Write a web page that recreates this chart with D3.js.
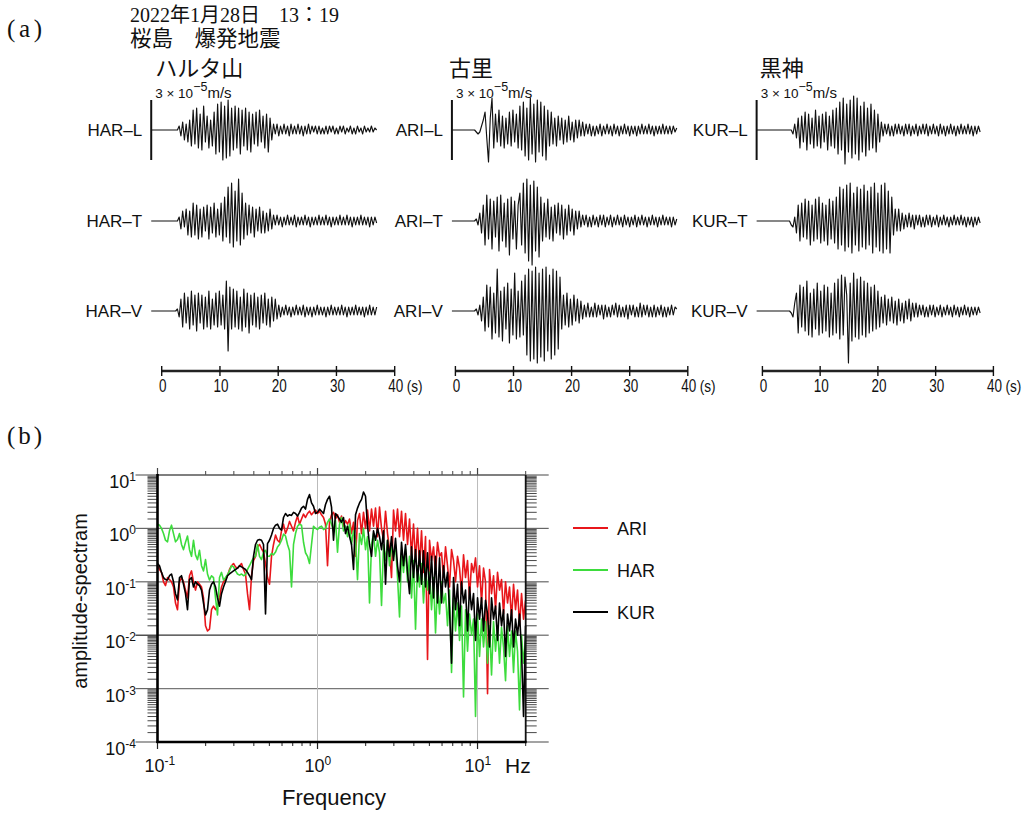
<!DOCTYPE html>
<html>
<head>
<meta charset="utf-8">
<script src="https://cdn.jsdelivr.net/npm/d3@7"></script>
<style>
  body { margin: 0; background: #fff; }
  text { fill: #111; }
</style>
</head>
<body>
<svg id="chart" width="1030" height="814"></svg>
<script>
// ---------------- data: waveforms (units of 1e-6 m/s, sampled every 0.3 s) ----------------
const stations = ["HAR", "ARI", "KUR"];
const stationNames = ["ハルタ山", "古里", "黒神"];
const components = ["L", "T", "V"];
const timeTicks = [0, 10, 20, 30, 40];
const sampleInterval = 0.3;          // s
const traceStart = [-1.8, -0.6, -1.0]; // s, per station
const scaleBarValue = 30;            // 3 x 10^-5 m/s

const harL = [0,0,0,0,0,0,0,0,0,0,0,0,0,0,0,0,
  2,-3,4,-5,3,-6,5,
  -8,10,-7,11,-9,8,-10,12,
  -6,7,-9,5,-8,9,
  -12,13,-11,14,-15,12,-14,15,-13,11,
  -10,12,-9,11,-12,10,-8,11,-10,9,-11,8,-7,
  9,-8,10,-6,7,-9,8,-11,6,-5,
  3,-2,3,-3,2,-2,3,-2,2,-3, 3,-2,2,-2,3,-2,2,-3,2,-2, 3,-2,2,-1,2,-2,2,-2,1,-2,
  2,-2,2,-1,2,-2,1,-2,2,-1, 2,-2,1,-1,2,-2,1,-2,2,-1, 1,-2,2,-1,1,-1,2,-1,1,0];
const harT = [0,0,0,0,0,0,0,0,0,0,0,0,0,0,0,0,
  2,-4,5,-3,6,-7,5,
  -8,9,-7,8,-9,6,-8,7,-5,8,-9,7,-6,9,-8,6,
  -7,9,-10,12,-8,
  17,-11,19,-13,15,-10,21,
  -12,14,-9,
  9,-7,8,-6,7,-8,6,-5,7,-6,5,-6,4,-5,6,-4,
  3,-2,3,-2,2,-3,2,-2,3,-2, 2,-2,3,-3,2,-2,2,-2,3,-2, 2,-3,2,-2,2,-2,3,-2,2,-2,
  3,-2,2,-3,2,-2,2,-2,3,-2, 2,-2,3,-2,2,-3,2,-2,2,-2, 3,-2,2,-2,2,-3,2,-2,2,-1];
const harV = [0,0,0,0,0,0,0,0,0,0,0,0,0,0,0,
  1,-3,6,-8,9,-6,7,
  -9,10,-7,8,-10,9,-6,8,-9,7,-8,10,-9,6,-7,9,-8,10,-7,8,-9,
  15,-20,12,
  -9,11,-8,10,-9,7,-10,11,-8,9,-11,8,-7,9,-8,7,-9,8,-6,9,-7,6,-8,7,-5,6,-4,
  3,-3,2,-2,3,-2,2,-3,2,-2, 3,-2,2,-2,3,-3,2,-2,2,-3, 2,-2,3,-2,2,-2,2,-3,2,-2,
  3,-2,2,-2,2,-2,3,-2,2,-3, 2,-2,2,-2,3,-2,2,-2,2,-3, 2,-2,3,-2,2,-2,2];

const ariL = [0,0,0,0,0,0,0,0,0,0,0,0,0,0,
  -1,-2,-1,
  2,5,9,-4,
  -16,6,16,
  -9,8,-6,10,-8,7,-9,6,-7,9,-8,10,-6,8,-9,
  12,-10,14,-13,11,-15,16,-12,13,-16,15,-11,14,-13,12,-15,10,
  -8,9,-7,6,-8,7,-5,6,-7,5,-6,7,-5,4,-6,5,-4,5,-3,4,
  -3,3,-2,3,-3,2,-3,2,-2,3, -3,2,-2,3,-2,2,-3,3,-2,2, -3,2,-2,3,-2,2,-3,2,-2,2,
  -3,2,-2,3,-2,2,-2,3,-2,2, -3,2,-2,2,-2,3,-2,2,-2,2, -2,2,-1,1];
const ariT = [0,0,0,0,0,0,0,0,0,0,0,0,0,0,
  1,-2,4,-6,8,
  -12,13,-9,11,-14,10,-8,12,-15,13,-10,9,-13,11,-17,12,-9,10,-14,8,
  14,-12,19,-16,21,-20,18,-22,20,-15,17,-18,
  12,-10,9,-8,11,-9,7,-10,8,-6,9,-7,8,-9,6,-7,8,-5,6,-7,5,-4,5,
  -3,3,-2,3,-3,2,-3,3,-2,2, -3,3,-2,3,-3,2,-2,3,-3,2, -2,3,-2,2,-3,3,-2,2,-3,2,
  -2,3,-3,2,-2,3,-2,2,-3,2, -2,3,-2,2,-3,2,-2,3,-2,2, -2,2,-3,2,-2,1];
const ariV = [0,0,0,0,0,0,0,0,0,0,0,0,0,0,
  1,-2,3,-5,7,
  -10,13,-8,12,-14,9,-11,21,-13,10,-15,12,-9,14,-16,11,-12,19,-14,10,-13,15,-12,
  18,-22,21,-25,20,-24,22,-26,19,-23,21,-25,22,-20,18,-24,21,-22,
  20,-19,17,
  -9,8,-7,9,-8,6,-7,8,-5,6,-6,5,
  -4,3,-3,4,-3,2,-3,4,-3,3, -2,3,-4,3,-3,2,-3,3,-2,4, -3,3,-3,2,-3,3,-4,3,-2,3,
  -3,2,-3,4,-3,3,-2,3,-3,2, -3,3,-3,2,-2,3,-3,2,-3,2, -2,3,-2,2,1];

const kurL = [0,0,0,0,0,0,0,0,0,0,0,0,0,0,0,0,0,0,0,0,0,
  -2,3,-4,6,
  -9,7,-6,9,-10,8,-7,6,-9,10,-8,7,-9,8,-6,9,-10,7,-8,10,-9,11,
  -12,14,-10,16,-17,13,-11,15,-14,17,-12,16,-15,12,-11,14,-13,11,-10,13,-9,
  10,-11,8,-6,
  4,-3,3,-2,3,-3,2,-3,3,-2, 3,-2,2,-3,3,-2,3,-3,2,-2, 3,-3,2,-2,3,-2,3,-3,2,-2,
  3,-2,2,-3,3,-2,2,-3,2,-2, 3,-2,2,-3,2,-2,3,-2,2,-2, 3,-2,2,-3,2,-2,2,-1];
const kurT = [0,0,0,0,0,0,0,0,0,0,0,0,0,0,0,0,0,0,0,0,
  -2,-3,2,
  -6,8,-10,9,-8,11,-9,10,-12,8,-10,11,-9,12,-11,9,-10,8,-12,11,-9,10,-11,12,
  -14,17,-12,16,-15,18,-13,19,-16,14,-12,17,-15,16,-13,18,-14,15,-12,17,-16,19,-13,14,-15,18,-16,19,-14,15,-16,12,
  -7,6,-5,6,-5,4,
  -4,3,-3,4,-3,3,-4,3,-2,3, -3,2,-3,3,-2,3,-3,2,-2,3, -3,2,-2,3,-2,2,-3,2,-2,3,
  -2,2,-2,3,-2,2,-3,2,-2,2, -3,2,-2,2,-1];
const kurV = [0,0,0,0,0,0,0,0,0,0,0,0,0,0,0,0,0,0,0,0,
  -1,-3,4,
  9,-11,13,-8,12,-10,15,-12,9,-13,11,-9,14,-12,10,-11,13,-10,12,-13,9,-12,14,-11,
  16,-14,18,-12,17,8,-26,
  14,-15,19,-13,16,-14,17,-12,15,-13,14,-11,12,-10,13,-9,10,-8,
  7,-6,8,-7,6,-5,7,-6,5,-7,6,-5,4,-6,5,-4,6,-5,4,-3,4,
  -3,3,-2,3,-3,2,-3,3,-2,3, -3,2,-2,3,-3,2,-2,3,-2,2, -3,3,-2,2,-3,2,-2,3,-2,2,
  -3,2,-2,2,-2,2,-1];

// ---------------- data: amplitude spectra (log-spaced bins from 0.1 Hz) ----------------
const specFreqStart = 0.1;   // Hz
const specLogStep = 0.0125;  // decades per bin
const specNames = ["ARI", "HAR", "KUR"];
const specColors = ["#e8161b", "#3ddc3d", "#000000"];

const specARI = [0.2,0.17,0.15, 0.1,0.085,0.12, 0.11,0.1,0.08, 0.04,0.03, 0.1,0.12,0.1, 0.07,0.05,
  0.13,0.16,0.1, 0.07,0.1,0.09, 0.08,0.05, 0.015,0.012,0.013, 0.03,0.035, 0.03,0.035,0.05,
  0.08,0.1,0.11, 0.13,0.17,0.2, 0.22,0.19,0.18, 0.2,0.22,0.17, 0.14,0.06, 0.03,
  0.13,0.25,0.3, 0.45,0.5,0.42, 0.36,0.22,0.12, 0.09, 0.3,0.5,0.75, 0.6,0.55,0.9,
  1.2,0.8,1.0, 1.35,1.1,0.9, 1.3,1.7,1.2, 1.5,1.85,1.6, 1.9,2.1,1.8, 2.0,2.2,1.9,
  2.1,1.8,1.6,1.2, 0.2, 1.3,1.8,2.0,1.5, 1.8,1.3,1.7,1.1,1.4, 1.2,1.5,0.8,1.3, 0.3,
  1.4,1.9,0.8,2.0,1.0,2.2, 0.9,2.3,1.1,2.4,0.7,2.5, 1.0,0.6,2.1,0.8,0.4, 0.12,
  2.2,0.9,2.3,0.7,2.1,0.6,1.9, 0.5,1.5,0.3,1.2,0.25,1.0,0.2,0.9,0.15,0.7, 0.0035,
  0.6,0.25,0.45,0.15,0.55,0.3, 0.35,0.12,0.45,0.2,0.08,0.4,0.25,0.1,
  0.3,0.18,0.06,0.32,0.12,0.25,0.05,0.22, 0.15,0.28,0.08,0.2,0.04,0.18,0.1, 0.0008,
  0.17,0.06,0.13,0.03,0.15,0.07,0.11,0.025, 0.1,0.04,0.08,0.02,0.09,0.03,0.07,
  0.015,0.06,0.02,0.045];

const specHAR = [1.2,1.15,1.0, 0.8,0.6,0.56, 0.9,1.15, 0.8,0.56,0.62, 0.8, 0.5,0.4,0.55, 0.72,
  0.4,0.3, 0.6, 0.32,0.26, 0.39, 0.2,0.16, 0.26, 0.14,0.108, 0.13,0.12, 0.05,0.024,
  0.12,0.15, 0.108,0.12, 0.135, 0.16,0.2,0.19, 0.16,0.14,0.133, 0.14,0.13,0.135, 0.17,0.2,
  0.24,0.28,0.3, 0.5, 0.3,0.26, 0.36,0.39, 0.3,0.3, 0.34,0.32,0.36, 0.45,0.5,0.6,
  0.78,0.72, 0.5,0.38, 0.08, 0.5,0.8, 1.1,1.2,1.15, 0.55,0.35, 0.3,0.22, 0.5,
  1.1,1.0, 0.95,1.05, 1.1,0.95,1.0, 1.3,1.5,1.2,0.9,1.4, 0.36, 1.2,1.6,0.9,1.1,
  0.7,1.2,0.5,0.9,0.6, 0.11, 0.8,0.5,1.0,0.4,0.7, 0.04, 0.5,0.8,0.3,0.6,0.35, 0.036,
  0.5,0.25,0.6,0.2,0.45,0.3,0.5,0.12, 0.022, 0.35,0.15,0.4,0.1,0.3,0.05,0.25, 0.013,
  0.2,0.08,0.22,0.04,0.18,0.07,0.15,0.03,0.12, 0.011, 0.09,0.025,0.1,0.04,0.06,0.015,0.07,
  0.002, 0.05,0.012,0.04,0.008,0.035, 0.0007, 0.03,0.005,0.025,0.01,0.02, 0.0003,
  0.025,0.004,0.02,0.006,0.018,0.003,0.015, 0.0018, 0.018,0.005,0.015,0.003,0.014,0.006,
  0.0014, 0.015,0.004,0.012,0.002,0.012,0.005, 0.0004, 0.01,0.003,0.008];

const specKUR = [0.22,0.2,0.15, 0.12,0.11,0.108, 0.13,0.14,0.1, 0.06,0.046, 0.12,0.13, 0.09,0.06,
  0.03, 0.11,0.12,0.08, 0.1,0.09,0.085, 0.07,0.04, 0.024,0.03, 0.07,0.09,0.1,
  0.08,0.05,0.035, 0.06,0.08,0.1, 0.13,0.14,0.15, 0.16,0.17,0.18, 0.2,0.19,0.18,
  0.17,0.15,0.13, 0.11,0.3, 0.5,0.6,0.62, 0.6,0.5, 0.025, 0.52,0.6,0.75, 1.0,1.15,1.2,
  1.0,0.93, 1.6,1.9, 1.7,1.8,1.75, 2.0,1.9, 1.7,2.0,2.4, 2.6,2.3, 3.5,4.3, 3.0,2.6,
  1.9,2.0, 2.3,2.1,1.9, 2.8,3.5,4.0, 2.5, 0.6, 1.9,1.7,1.5, 1.3,1.6,0.8, 1.1,0.7,0.5,
  0.17, 1.8,2.4,3.0, 3.5,4.8,4.0, 1.1,0.5,0.3, 0.9,0.6,1.0, 0.7,0.4,0.9, 0.09,
  0.6,0.3,0.7,0.25,0.65,0.2, 0.1, 0.55,0.2,0.5,0.15, 0.06,
  0.45,0.12,0.4,0.1,0.38,0.09,0.38,0.08, 0.35,0.06,0.3,0.05,0.3,0.04,0.28,
  0.04,0.2,0.08,0.15,0.03, 0.003, 0.12,0.03,0.09,0.015,0.1,0.04,0.07,
  0.012,0.08,0.03,0.06,0.008,0.05,0.02, 0.05,0.012,0.045,0.025,0.006,0.05,0.02,
  0.035,0.008,0.04,0.015,0.03,0.004,0.025, 0.012,0.03,0.006,0.02,0.01,0.025,0.005,
  0.0003,0.015];

const ampTicks = [1e-4, 1e-3, 1e-2, 1e-1, 1, 10];
const ampTickExp = ["-4", "-3", "-2", "-1", "0", "1"];
const freqTicks = [0.1, 1, 10];
const freqTickExp = ["-1", "0", "1"];

// ---------------- drawing ----------------
const svg = d3.select("#chart");
const sans = "'Liberation Sans', Arial, sans-serif";
const serif = "'Liberation Serif', 'Noto Sans CJK JP', serif";
const cjk = "'Noto Sans CJK JP', sans-serif";

// panel labels
svg.append("text").attr("x", 7).attr("y", 37).attr("font-family", serif)
  .attr("font-size", 25).attr("textLength", 35).attr("lengthAdjust", "spacing").text("(a)");
svg.append("text").attr("x", 7).attr("y", 444).attr("font-family", serif)
  .attr("font-size", 25).attr("textLength", 35).attr("lengthAdjust", "spacing").text("(b)");

// two-line heading: date/time and event name
const head = svg.append("text").attr("font-family", serif).attr("font-size", 20);
head.append("tspan").attr("x", 130).attr("y", 22).text("2022年1月28日");
head.append("tspan").attr("x", 279).attr("y", 22).text("13：19");
head.append("tspan").attr("x", 130).attr("y", 46).attr("font-family", cjk)
  .attr("font-size", 21.5).text("桜島　爆発地震");

// ---- (a) seismograms
const traceRows = [130, 221, 311];
const timeAxisY = 371;
const colRanges = [[161.7, 394.7], [455.4, 687.8], [762.4, 993.4]];
const traceSets = [[harL, harT, harV], [ariL, ariT, ariV], [kurL, kurT, kurV]];
const nameShift = [4, -3, 3];
const amp = d3.scaleLinear().domain([-15, 15]).range([30, -30]);

stations.forEach((st, c) => {
  const tx = d3.scaleLinear().domain([0, 40]).range(colRanges[c]);
  const g = svg.append("g");
  const x0 = tx(traceStart[c]);

  components.forEach((cp, r) => {
    const y0 = traceRows[r];
    const line = d3.line()
      .x((v, i) => tx(traceStart[c] + i * sampleInterval))
      .y(v => y0 + amp(v));
    g.append("path").attr("d", line(traceSets[c][r]))
      .attr("fill", "none").attr("stroke", "#111").attr("stroke-width", 1.15)
      .attr("stroke-linejoin", "round");
    g.append("text").attr("x", x0 - 9).attr("y", y0 + 6)
      .attr("text-anchor", "end").attr("font-family", sans).attr("font-size", 17)
      .text(st + "–" + cp);
  });

  // amplitude scale bar on the first row
  g.append("line").attr("x1", x0).attr("x2", x0)
    .attr("y1", traceRows[0] + amp(scaleBarValue / 2))
    .attr("y2", traceRows[0] + amp(-scaleBarValue / 2))
    .attr("stroke", "#111").attr("stroke-width", 2);
  const lab = g.append("text").attr("x", x0 + 4).attr("y", 98)
    .attr("font-family", sans).attr("font-size", 13.5);
  lab.append("tspan").text("3 × 10");
  lab.append("tspan").attr("dy", -7).attr("font-size", 12.5).text("−5");
  lab.append("tspan").attr("dy", 7).attr("font-size", 15).text("m/s");

  g.append("text").attr("x", x0 + nameShift[c]).attr("y", 76)
    .attr("font-family", cjk).attr("font-size", 22).text(stationNames[c]);

  // time axis
  g.append("line").attr("x1", tx(0)).attr("x2", tx(40))
    .attr("y1", timeAxisY).attr("y2", timeAxisY)
    .attr("stroke", "#222").attr("stroke-width", 2.6);
  timeTicks.forEach(t => {
    g.append("line").attr("x1", tx(t)).attr("x2", tx(t))
      .attr("y1", timeAxisY - 5).attr("y2", timeAxisY + 5)
      .attr("stroke", "#111").attr("stroke-width", 1.4);
    g.append("text").attr("transform", `translate(${tx(t) + 1},392) scale(0.75,1)`)
      .attr("text-anchor", "middle").attr("font-family", sans).attr("font-size", 18)
      .text(t);
  });
  g.append("text").attr("transform", `translate(${tx(40) + 12},392) scale(0.8,1)`)
    .attr("font-family", sans).attr("font-size", 17).text("(s)");
});

// ---- (b) amplitude spectra
const fx = d3.scaleLog().domain([0.1, 20]).range([157.5, 525.7]);
const fy = d3.scaleLog().domain([1e-4, 10]).range([742, 475]);
const [L, R] = fx.range();
const [B, T] = fy.range();
const sp = svg.append("g");

// grid
ampTicks.slice(1, 5).forEach(v => {
  sp.append("line").attr("x1", L).attr("x2", R).attr("y1", fy(v)).attr("y2", fy(v))
    .attr("stroke", v === 1e-2 ? "#333" : "#777").attr("stroke-width", 1.2);
});
[1, 10].forEach(v => {
  sp.append("line").attr("x1", fx(v)).attr("x2", fx(v)).attr("y1", T).attr("y2", B)
    .attr("stroke", "#bbb").attr("stroke-width", 1);
});

// spectra
const specSeries = [specARI, specHAR, specKUR];
specSeries.forEach((vals, k) => {
  const line = d3.line()
    .x((v, j) => fx(specFreqStart * Math.pow(10, j * specLogStep)))
    .y(v => fy(v));
  sp.append("path").attr("d", line(vals)).attr("fill", "none")
    .attr("stroke", specColors[k]).attr("stroke-width", 1.6).attr("stroke-linejoin", "round");
});

// vertical-axis ticks (both sides)
const minorMult = d3.range(1.5, 10, 0.5);
ampTicks.forEach((v, k) => {
  const y = fy(v);
  sp.append("line").attr("x1", L - 22).attr("x2", L).attr("y1", y).attr("y2", y)
    .attr("stroke", v === 1e-2 ? "#222" : "#666").attr("stroke-width", 1.2);
  sp.append("line").attr("x1", R).attr("x2", R + 23).attr("y1", y).attr("y2", y)
    .attr("stroke", "#666").attr("stroke-width", 1.2);
  const t = sp.append("text").attr("x", 136).attr("y", y + 13).attr("text-anchor", "end")
    .attr("font-family", sans).attr("font-size", 18);
  t.append("tspan").text("10");
  t.append("tspan").attr("dy", -7).attr("font-size", 12).text(ampTickExp[k]);
  if (k < ampTicks.length - 1) {
    minorMult.forEach(m => {
      const ym = fy(v * m);
      sp.append("line").attr("x1", L - 10).attr("x2", L).attr("y1", ym).attr("y2", ym)
        .attr("stroke", "#333").attr("stroke-width", 0.9);
      sp.append("line").attr("x1", R).attr("x2", R + 11).attr("y1", ym).attr("y2", ym)
        .attr("stroke", "#333").attr("stroke-width", 0.9);
    });
  }
});

// horizontal-axis ticks (bottom and top)
const fMinor = [0.2,0.3,0.4,0.5,0.6,0.7,0.8,0.9,2,3,4,5,6,7,8,9,20];
fMinor.forEach(f => {
  sp.append("line").attr("x1", fx(f)).attr("x2", fx(f)).attr("y1", B).attr("y2", B + 4)
    .attr("stroke", "#222").attr("stroke-width", 1);
  sp.append("line").attr("x1", fx(f)).attr("x2", fx(f)).attr("y1", T).attr("y2", T - 4)
    .attr("stroke", "#444").attr("stroke-width", 1);
});
freqTicks.forEach((f, k) => {
  sp.append("line").attr("x1", fx(f)).attr("x2", fx(f)).attr("y1", B).attr("y2", B + 7)
    .attr("stroke", "#222").attr("stroke-width", 1.2);
  sp.append("line").attr("x1", fx(f)).attr("x2", fx(f)).attr("y1", T).attr("y2", T - 7)
    .attr("stroke", "#444").attr("stroke-width", 1.2);
  const t = sp.append("text").attr("x", fx(f) - 13).attr("y", 772)
    .attr("font-family", sans).attr("font-size", 18);
  t.append("tspan").text("10");
  t.append("tspan").attr("dy", -7).attr("font-size", 12).text(freqTickExp[k]);
});

// frame
sp.append("line").attr("x1", L).attr("x2", R).attr("y1", T).attr("y2", T)
  .attr("stroke", "#555").attr("stroke-width", 1.6);
sp.append("line").attr("x1", R).attr("x2", R).attr("y1", T).attr("y2", B)
  .attr("stroke", "#111").attr("stroke-width", 1.8);
sp.append("line").attr("x1", L).attr("x2", L).attr("y1", T - 1).attr("y2", B + 1)
  .attr("stroke", "#000").attr("stroke-width", 2.6);
sp.append("line").attr("x1", L - 1).attr("x2", R + 1).attr("y1", B).attr("y2", B)
  .attr("stroke", "#000").attr("stroke-width", 2.6);

// axis titles
sp.append("text").attr("x", 505).attr("y", 773).attr("font-family", sans)
  .attr("font-size", 21).text("Hz");
sp.append("text").attr("x", 334).attr("y", 805).attr("text-anchor", "middle")
  .attr("font-family", sans).attr("font-size", 22).text("Frequency");
sp.append("text").attr("transform", "translate(87,601) rotate(-90)")
  .attr("text-anchor", "middle").attr("font-family", sans).attr("font-size", 20)
  .text("amplitude-spectram");

// legend
const legendY = [528, 570, 612];
specNames.forEach((n, k) => {
  sp.append("line").attr("x1", 573).attr("x2", 608).attr("y1", legendY[k]).attr("y2", legendY[k])
    .attr("stroke", specColors[k]).attr("stroke-width", 2);
  sp.append("text").attr("x", 617).attr("y", legendY[k] + 7)
    .attr("font-family", sans).attr("font-size", 18).text(n);
});
</script>
</body>
</html>
